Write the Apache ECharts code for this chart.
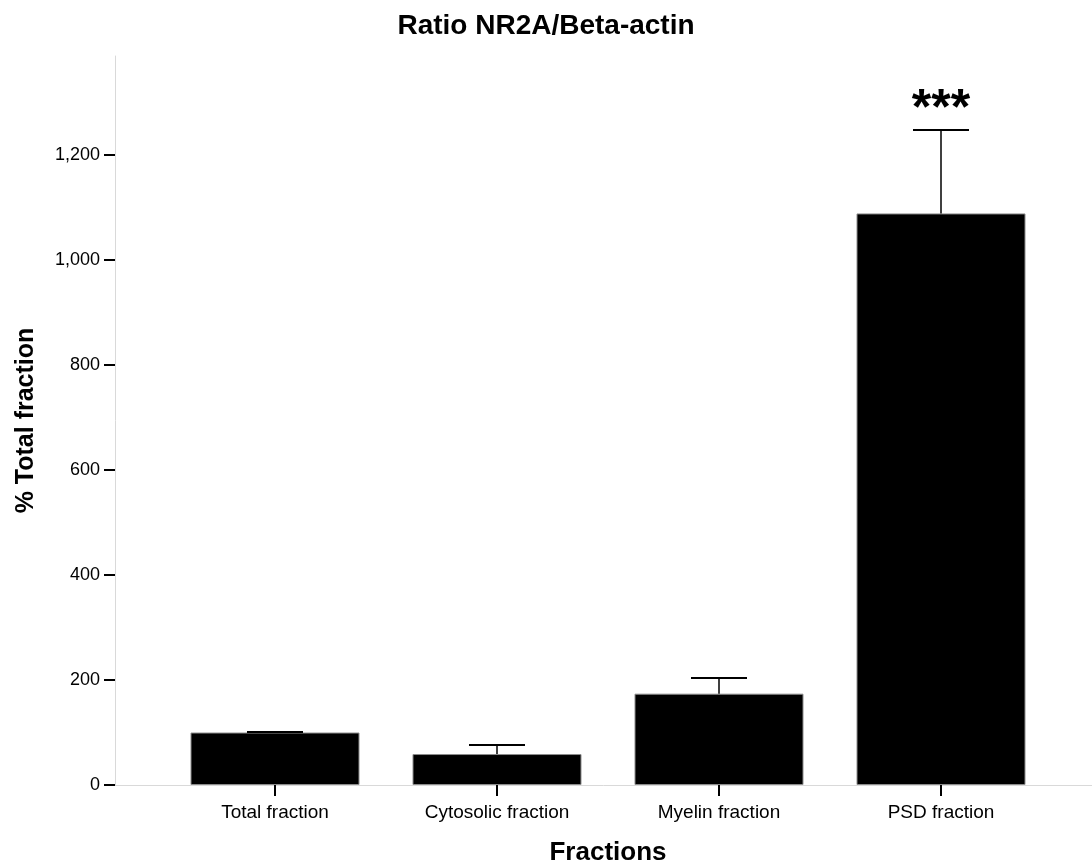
<!DOCTYPE html>
<html>
<head>
<meta charset="utf-8">
<script src="https://cdn.jsdelivr.net/npm/echarts@6/dist/echarts.min.js"></script>
<style>
html,body{margin:0;padding:0;background:#fff;}
#chart{width:1092px;height:865px;}
</style>
</head>
<body>
<div id="chart"></div>
<script>
var categories = ['Total fraction', 'Cytosolic fraction', 'Myelin fraction', 'PSD fraction'];
var means = [100, 59, 174, 1089];
var errors = [1, 17, 30, 159];
var significance = ['', '', '', '***'];
var yTicks = [0, 200, 400, 600, 800, 1000, 1200];
var yMax = 1389;

var FONT = '"Liberation Sans", Arial, sans-serif';
var chart = echarts.init(document.getElementById('chart'));

var errData = categories.map(function (c, i) { return [i, means[i], errors[i]]; });

var option = {
  backgroundColor: '#ffffff',
  animation: false,
  title: {
    text: 'Ratio NR2A/Beta-actin',
    left: 'center',
    top: 7,
    textStyle: { fontFamily: FONT, fontSize: 28, fontWeight: 'bold', color: '#000' }
  },
  grid: [
    { left: 115, right: 0, top: 56, bottom: 80, containLabel: false, outerBoundsMode: 'none' },
    { left: 164, right: 40, top: 56, bottom: 80, containLabel: false, outerBoundsMode: 'none' }
  ],
  xAxis: [
    {
      type: 'value', gridIndex: 0, min: 0, max: 1,
      axisLine: { show: true, lineStyle: { color: '#d9d9d9', width: 1 } },
      axisTick: { show: false }, axisLabel: { show: false }, splitLine: { show: false }
    },
    {
      type: 'category', gridIndex: 1, data: categories,
      name: 'Fractions', nameLocation: 'middle', nameGap: 55,
      nameTextStyle: { fontFamily: FONT, fontSize: 26, fontWeight: 'bold', color: '#000' },
      axisLine: { show: false },
      axisTick: { show: true, alignWithLabel: true, length: 11, lineStyle: { color: '#000', width: 2 } },
      axisLabel: { fontFamily: FONT, fontSize: 19, color: '#000', margin: 18 },
      splitLine: { show: false }
    }
  ],
  yAxis: [
    {
      type: 'value', gridIndex: 0, min: 0, max: yMax,
      name: '% Total fraction', nameLocation: 'middle', nameGap: 76,
      nameTextStyle: { fontFamily: FONT, fontSize: 25, fontWeight: 'bold', color: '#000' },
      axisLine: { show: true, lineStyle: { color: '#d9d9d9', width: 1 } },
      axisTick: { show: true, length: 11, customValues: yTicks, lineStyle: { color: '#000', width: 2 } },
      axisLabel: {
        fontFamily: FONT, fontSize: 18, color: '#000', margin: 15, customValues: yTicks,
        formatter: function (v) { return v.toLocaleString('en-US'); }
      },
      splitLine: { show: false }
    },
    {
      type: 'value', gridIndex: 1, min: 0, max: yMax, show: false,
      splitLine: { show: false }
    }
  ],
  series: [
    {
      type: 'bar', xAxisIndex: 1, yAxisIndex: 1,
      data: means, barWidth: 169,
      itemStyle: { color: '#000000', borderColor: '#8c8c8c', borderWidth: 1 },
      z: 2
    },
    {
      type: 'custom', xAxisIndex: 1, yAxisIndex: 1,
      data: errData, z: 3,
      renderItem: function (params, api) {
        var i = api.value(0), m = api.value(1), e = api.value(2);
        var base = api.coord([i, m]);
        var top = api.coord([i, m + e]);
        var half = 28;
        var children = [
          { type: 'line', shape: { x1: base[0], y1: base[1], x2: top[0], y2: top[1] },
            style: { stroke: '#000', lineWidth: 1.5 } },
          { type: 'line', shape: { x1: top[0] - half, y1: top[1], x2: top[0] + half, y2: top[1] },
            style: { stroke: '#000', lineWidth: 2 } }
        ];
        var s = significance[params.dataIndex];
        if (s) {
          children.push({ type: 'text', x: top[0], y: top[1] - 20,
            style: { text: s, fill: '#000', font: 'bold 50px ' + FONT, align: 'center', verticalAlign: 'middle' } });
        }
        return { type: 'group', children: children };
      }
    }
  ]
};
chart.setOption(option);
</script>
</body>
</html>
